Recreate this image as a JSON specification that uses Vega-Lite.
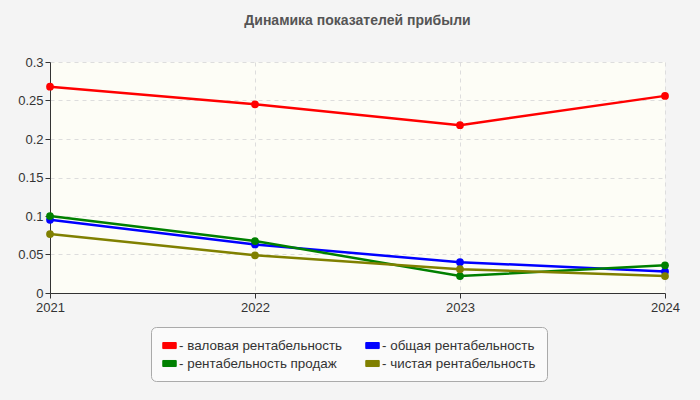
{
  "$schema": "https://vega.github.io/schema/vega-lite/v6.json",
  "autosize": {"type": "none"},
  "width": 615,
  "height": 231,
  "padding": {"left": 50, "top": 62, "right": 35, "bottom": 107},
  "background": "#f4f4f4",
  "title": {
    "text": "Динамика показателей прибыли",
    "fontSize": 14,
    "fontWeight": "bold",
    "color": "#555555",
    "font": "Liberation Sans",
    "anchor": "middle",
    "offset": 28
  },
  "config": {
    "view": {"fill": "#fdfdf6", "stroke": null},
    "font": "Liberation Sans"
  },
  "data": {
    "values": [
      {"year": 2021, "series": "- валовая рентабельность", "value": 0.268},
      {"year": 2022, "series": "- валовая рентабельность", "value": 0.245},
      {"year": 2023, "series": "- валовая рентабельность", "value": 0.218},
      {"year": 2024, "series": "- валовая рентабельность", "value": 0.256},
      {"year": 2021, "series": "- общая рентабельность", "value": 0.095},
      {"year": 2022, "series": "- общая рентабельность", "value": 0.063},
      {"year": 2023, "series": "- общая рентабельность", "value": 0.040},
      {"year": 2024, "series": "- общая рентабельность", "value": 0.028},
      {"year": 2021, "series": "- рентабельность продаж", "value": 0.100},
      {"year": 2022, "series": "- рентабельность продаж", "value": 0.0675},
      {"year": 2023, "series": "- рентабельность продаж", "value": 0.022},
      {"year": 2024, "series": "- рентабельность продаж", "value": 0.036},
      {"year": 2021, "series": "- чистая рентабельность", "value": 0.0765},
      {"year": 2022, "series": "- чистая рентабельность", "value": 0.049},
      {"year": 2023, "series": "- чистая рентабельность", "value": 0.031},
      {"year": 2024, "series": "- чистая рентабельность", "value": 0.022}
    ]
  },
  "mark": {"type": "line", "strokeWidth": 2.5, "point": {"filled": true, "size": 60}},
  "encoding": {
    "x": {
      "field": "year",
      "type": "quantitative",
      "scale": {"domain": [2021, 2024], "nice": false, "zero": false},
      "axis": {
        "title": null,
        "values": [2021, 2022, 2023, 2024],
        "format": "d",
        "labelFontSize": 13,
        "labelColor": "#333333",
        "labelPadding": 3,
        "domainColor": "#333333",
        "tickColor": "#333333",
        "tickSize": 5,
        "gridDash": [4, 4],
        "gridColor": "#dddddd",
        "labelFlush": false
      }
    },
    "y": {
      "field": "value",
      "type": "quantitative",
      "scale": {"domain": [0, 0.3], "nice": false},
      "axis": {
        "title": null,
        "values": [0, 0.05, 0.1, 0.15, 0.2, 0.25, 0.3],
        "format": ".2~f",
        "labelFontSize": 13,
        "labelColor": "#333333",
        "domainColor": "#333333",
        "tickColor": "#333333",
        "tickSize": 5,
        "gridDash": [4, 4],
        "gridColor": "#dddddd"
      }
    },
    "color": {
      "field": "series",
      "type": "nominal",
      "sort": ["- валовая рентабельность", "- общая рентабельность", "- рентабельность продаж", "- чистая рентабельность"],
      "scale": {
        "domain": ["- валовая рентабельность", "- общая рентабельность", "- рентабельность продаж", "- чистая рентабельность"],
        "range": ["#ff0000", "#0000ff", "#008000", "#808000"]
      },
      "legend": {
        "title": null,
        "orient": "none",
        "legendX": 101,
        "legendY": 265,
        "direction": "horizontal",
        "columns": 2,
        "columnPadding": 20,
        "rowPadding": 4,
        "padding": 11,
        "fillColor": "#fafafa",
        "strokeColor": "#aaaaaa",
        "cornerRadius": 5,
        "labelFontSize": 13.4,
        "labelLimit": 300,
        "labelColor": "#333333",
        "labelOffset": 2,
        "symbolType": "M-1,-0.45 L1,-0.45 L1,0.45 L-1,0.45 Z",
        "symbolSize": 180,
        "symbolStrokeColor": "#888888",
        "symbolStrokeWidth": 1,
        "symbolOpacity": 1
      }
    }
  }
}
